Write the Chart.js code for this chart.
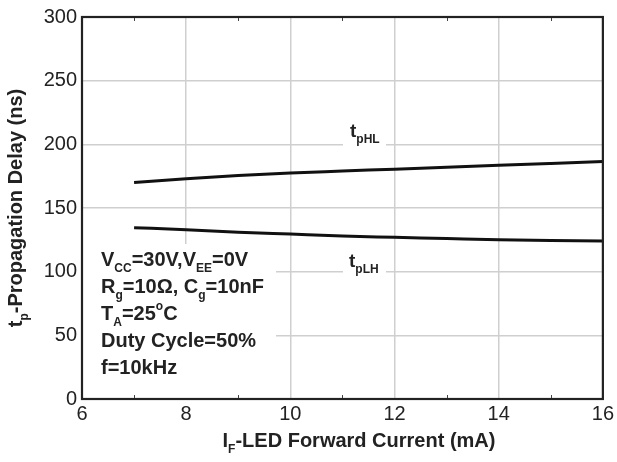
<!DOCTYPE html>
<html>
<head>
<meta charset="utf-8">
<script src="https://cdn.jsdelivr.net/npm/chart.js@4.4.0/dist/chart.umd.min.js"></script>
<style>
    html, body { margin: 0; padding: 0; background: #fff; }
    #wrap { width: 617px; height: 462px; }
</style>
</head>
<body>
<div id="wrap"><canvas id="delayChart" width="617" height="462"></canvas></div>
<script>
// forward current (mA) and delays (ns)
const current = [7, 8, 9, 10, 11, 12, 13, 14, 15, 16];
const tpHL = [170, 173, 175.5, 177.5, 179, 180.5, 182, 183.5, 185, 186.5];
const tpLH = [134.5, 133, 131, 129.5, 128, 127, 126, 125, 124.5, 124];
const xTicks = [6, 8, 10, 12, 14, 16];
const yTicks = [0, 50, 100, 150, 200, 250, 300];

const FONT = "'Liberation Sans', Arial, sans-serif";
const INK = '#222';

// draws text with sub/superscript parts, returns end x
function drawRich(ctx, x, y, parts, size) {
    parts.forEach(p => {
        let s = size, dy = 0;
        if (p.sub) { s = Math.round(size * 0.62); dy = size * 0.3; }
        if (p.sup) { s = Math.round(size * 0.62); dy = -size * 0.5; }
        ctx.font = 'bold ' + s + 'px ' + FONT;
        ctx.fillText(p.t, x, y + dy);
        x += ctx.measureText(p.t).width;
    });
    return x;
}
function richWidth(ctx, parts, size) {
    let w = 0;
    parts.forEach(p => {
        const s = (p.sub || p.sup) ? Math.round(size * 0.62) : size;
        ctx.font = 'bold ' + s + 'px ' + FONT;
        w += ctx.measureText(p.t).width;
    });
    return w;
}

const notes = [
    [{t: 'V'}, {t: 'CC', sub: true}, {t: '=30V,V'}, {t: 'EE', sub: true}, {t: '=0V'}],
    [{t: 'R'}, {t: 'g', sub: true}, {t: '=10\u03A9, C'}, {t: 'g', sub: true}, {t: '=10nF'}],
    [{t: 'T'}, {t: 'A', sub: true}, {t: '=25'}, {t: 'o', sup: true}, {t: 'C'}],
    [{t: 'Duty Cycle=50%'}],
    [{t: 'f=10kHz'}]
];

const decorPlugin = {
    id: 'decor',
    beforeDatasetsDraw(chart) {
        const {ctx, chartArea: a} = chart;
        ctx.save();
        ctx.fillStyle = '#fff';
        // box behind the conditions text
        ctx.fillRect(a.left + 1, 244, 275 - a.left, a.bottom - 244);
        // boxes behind the curve labels
        ctx.fillRect(343, 120, 43, 30);
        ctx.fillRect(343, 250, 43, 30);
        ctx.restore();
    },
    afterDatasetsDraw(chart) {
        const {ctx, chartArea: a, scales} = chart;
        ctx.save();
        // minor ticks on top and bottom
        ctx.strokeStyle = '#444';
        ctx.lineWidth = 1;
        for (let v = 7; v < 16; v += 2) {
            const px = Math.round(scales.x.getPixelForValue(v)) + 0.5;
            ctx.beginPath();
            ctx.moveTo(px, a.top); ctx.lineTo(px, a.top + 4);
            ctx.moveTo(px, a.bottom); ctx.lineTo(px, a.bottom - 4);
            ctx.stroke();
        }
        // frame
        ctx.strokeStyle = INK;
        ctx.lineWidth = 2.2;
        ctx.strokeRect(a.left, a.top, a.right - a.left, a.bottom - a.top);

        ctx.fillStyle = INK;
        ctx.textBaseline = 'alphabetic';
        ctx.textAlign = 'left';
        // conditions text
        const baseY = [266, 293, 320, 347, 374];
        notes.forEach((line, i) => drawRich(ctx, 101, baseY[i], line, 20));
        // curve labels
        drawRich(ctx, 350, 137, [{t: 't'}, {t: 'pHL', sub: true}], 19);
        drawRich(ctx, 349, 267, [{t: 't'}, {t: 'pLH', sub: true}], 19);

        // x axis title (sits a little right of the plot centre in the original)
        const xt = [{t: 'I'}, {t: 'F', sub: true}, {t: '-LED Forward Current (mA)'}];
        const xw = richWidth(ctx, xt, 20);
        drawRich(ctx, 359 - xw / 2, 447, xt, 20);

        // y axis title
        const yt = [{t: 't'}, {t: 'p', sub: true}, {t: '-Propagation Delay (ns)'}];
        const yw = richWidth(ctx, yt, 20);
        ctx.translate(22, (a.top + a.bottom) / 2);
        ctx.rotate(-Math.PI / 2);
        drawRich(ctx, -yw / 2, 0, yt, 20);
        ctx.restore();
    }
};

const ctx = document.getElementById('delayChart').getContext('2d');
new Chart(ctx, {
    type: 'line',
    data: {
        datasets: [
            {
                label: 'tpHL',
                data: current.map((c, i) => ({x: c, y: tpHL[i]})),
                borderColor: '#111',
                borderWidth: 3,
                pointRadius: 0,
                tension: 0.4,
                cubicInterpolationMode: 'monotone'
            },
            {
                label: 'tpLH',
                data: current.map((c, i) => ({x: c, y: tpLH[i]})),
                borderColor: '#111',
                borderWidth: 3,
                pointRadius: 0,
                tension: 0.4,
                cubicInterpolationMode: 'monotone'
            }
        ]
    },
    options: {
        responsive: false,
        animation: false,
        layout: { padding: { top: 15, right: 13, left: 0, bottom: 0 } },
        plugins: { legend: { display: false }, tooltip: { enabled: false } },
        scales: {
            x: {
                type: 'linear',
                min: 6, max: 16,
                afterBuildTicks: s => { s.ticks = xTicks.map(v => ({value: v})); },
                afterFit: s => { s.height = 63; },
                grid: { color: '#cfcfcf', lineWidth: 1.5, drawTicks: false },
                border: { display: false },
                ticks: { color: INK, padding: 3, font: { family: FONT, size: 20 } }
            },
            y: {
                min: 0, max: 300,
                afterBuildTicks: s => { s.ticks = yTicks.map(v => ({value: v})); },
                afterFit: s => { s.width = 82; },
                grid: { color: '#cfcfcf', lineWidth: 1.5, drawTicks: false },
                border: { display: false },
                ticks: { color: INK, padding: 5, font: { family: FONT, size: 20 } }
            }
        }
    },
    plugins: [decorPlugin]
});
</script>
</body>
</html>
